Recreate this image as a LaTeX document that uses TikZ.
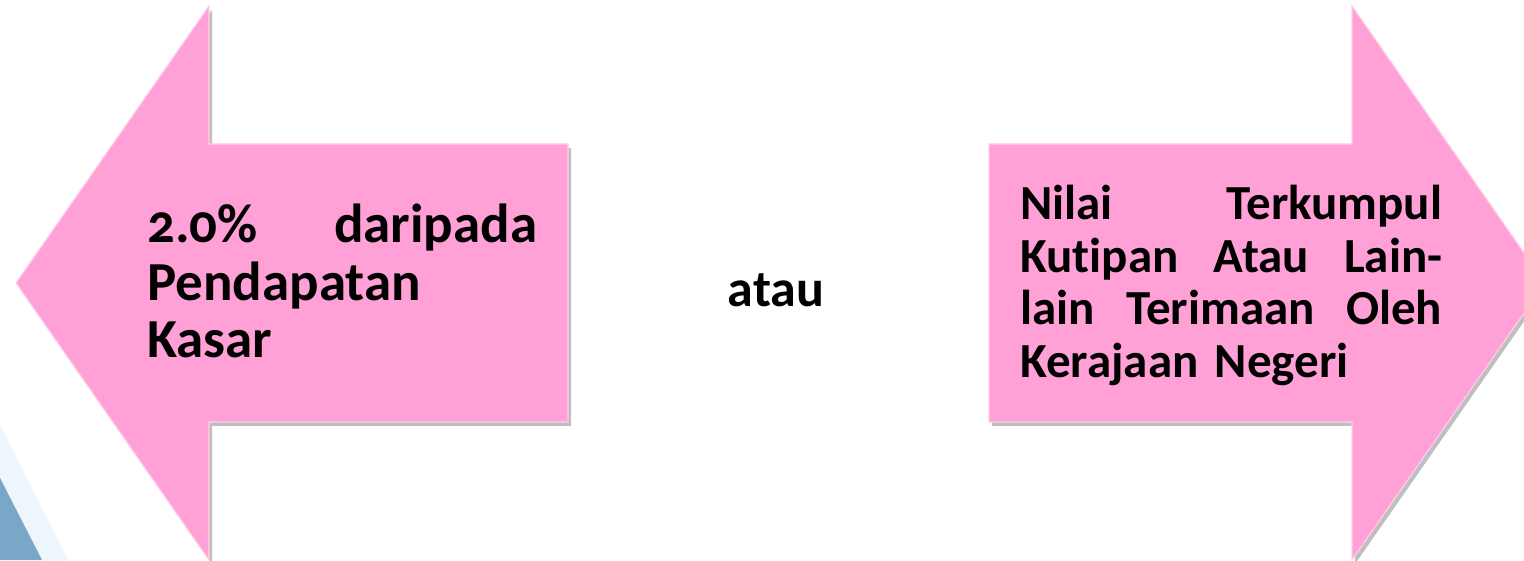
\documentclass[tikz,border=0pt]{standalone}
\usepackage{fontspec}
\setmainfont{Carlito}[Numbers=OldStyle, Ligatures=NoCommon]
\definecolor{arrowpink}{RGB}{255,161,215}
\definecolor{edgepink}{RGB}{255,205,235}
\definecolor{bgblue}{RGB}{122,166,200}
\definecolor{bgcyan}{RGB}{236,246,252}
\tikzset{
  arrowshape/.style={fill=arrowpink, draw=edgepink, line width=1.2pt, line join=miter},
  shadowshape/.style={fill=black, opacity=0.25},
  lefttext/.style={font=\fontsize{55}{57.5}\selectfont\bfseries, text width=390pt, align=left, inner sep=0pt, anchor=north west},
  righttext/.style={font=\fontsize{49}{52.5}\selectfont\bfseries, text width=422pt, align=left, inner sep=0pt, anchor=north west},
  midtext/.style={font=\fontsize{52}{56}\selectfont\bfseries, inner sep=0pt}
}
\begin{document}
\begin{tikzpicture}[x=1pt,y=1pt]
\useasboundingbox (0,0) rectangle (1524,560);
\fill[white] (0,0) rectangle (1524,560);
% background decoration, bottom left
\fill[bgcyan] (0,0) -- (68,0) -- (0,135) -- cycle;
\fill[bgblue] (0,0) -- (42,0) -- (0,82) -- cycle;
% shadows
\begin{scope}[shift={(3,-4)}]
  \fill[shadowshape] (16,277) -- (209,554) -- (209,416) -- (568,416) -- (568,138) -- (209,138) -- (209,0) -- cycle;
  \fill[shadowshape] (1545,277) -- (1352,554) -- (1352,416) -- (989,416) -- (989,138) -- (1352,138) -- (1352,0) -- cycle;
\end{scope}
% arrows
\draw[arrowshape] (16,277) -- (209,554) -- (209,416) -- (568,416) -- (568,138) -- (209,138) -- (209,0) -- cycle;
\draw[arrowshape] (1545,277) -- (1352,554) -- (1352,416) -- (989,416) -- (989,138) -- (1352,138) -- (1352,0) -- cycle;
% texts
\node[lefttext] (lefttxt) at (147,356) {2.0\%\hfill daripada\\Pendapatan\\Kasar};
\node[midtext] (atau) at (776,270) {atau};
\node[righttext] (righttxt) at (1020,375) {Nilai\hfill Terkumpul\\Kutipan\hfill Atau\hfill Lain-\\lain\hfill Terimaan\hfill Oleh\\Kerajaan Negeri};
\end{tikzpicture}
\end{document}
